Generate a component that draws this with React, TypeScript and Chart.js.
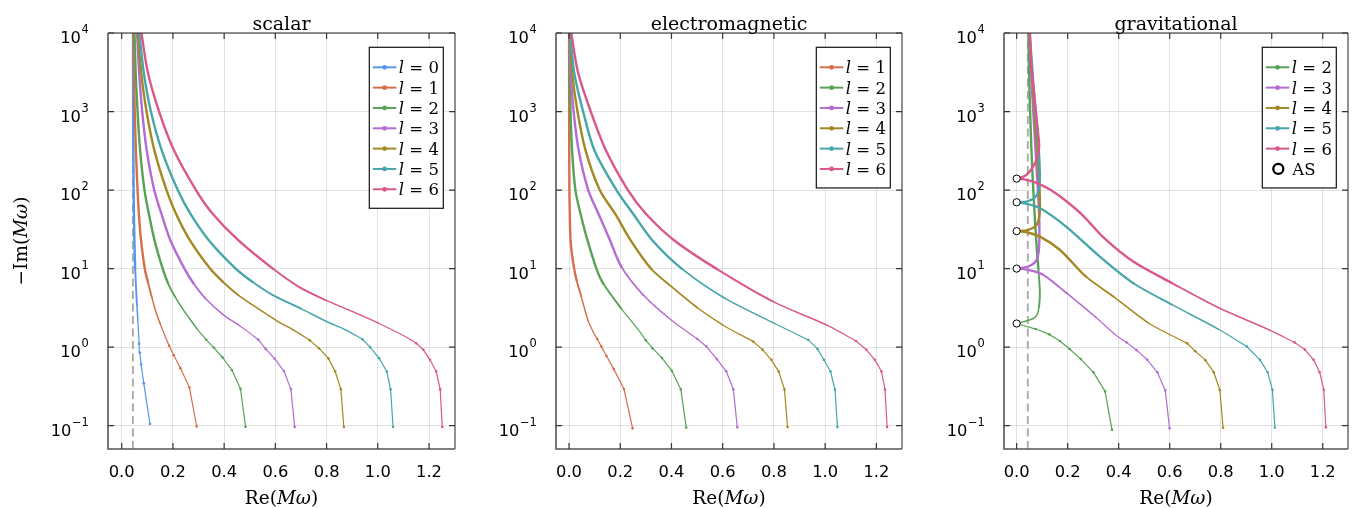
import React, { useEffect, useRef } from 'react';
import { Chart, registerables } from 'chart.js';

Chart.register(...registerables);

// Each point: [Re(Mω), -Im(Mω)]
type Pt = [number, number];

// ---------- scalar ----------
const scalarL0: Pt[] = [[0.1105, 0.1049], [0.0861, 0.3481], [0.0757, 0.6011], [0.0709, 0.8538], [0.0681, 1.106], [0.0655, 1.6], [0.063, 2.2], [0.0595, 3.5], [0.0563, 5.5], [0.0527, 10], [0.0496, 23], [0.0478, 50], [0.0467, 100], [0.0455, 316], [0.0449, 1000], [0.0445, 3162], [0.0443, 10000]];
const scalarL1: Pt[] = [[0.2929, 0.0977], [0.2645, 0.3063], [0.2295, 0.5401], [0.2033, 0.7883], [0.1851, 1.041], [0.165, 1.5], [0.150, 2.0], [0.131, 3.0], [0.117, 4.4], [0.102, 6.8], [0.090, 10], [0.0755, 23], [0.067, 50], [0.062, 100], [0.0555, 316], [0.051, 1000], [0.048, 3162], [0.046, 10000]];
const scalarL2: Pt[] = [[0.4836, 0.0968], [0.4639, 0.2956], [0.4305, 0.5086], [0.3939, 0.7381], [0.3605, 0.98], [0.33, 1.24], [0.295, 1.7], [0.273, 2.12], [0.24, 3.0], [0.208, 4.4], [0.181, 6.5], [0.16, 10], [0.128, 23], [0.106, 50], [0.089, 100], [0.072, 316], [0.062, 1000], [0.0545, 3162], [0.05, 10000]];
const scalarL3: Pt[] = [[0.6754, 0.0965], [0.6607, 0.2923], [0.6335, 0.4960], [0.598, 0.71], [0.562, 0.95], [0.534, 1.24], [0.49, 1.6], [0.456, 1.92], [0.397, 2.58], [0.326, 4.2], [0.28, 6.5], [0.245, 10], [0.19, 23], [0.155, 50], [0.127, 100], [0.098, 316], [0.08, 1000], [0.068, 3162], [0.06, 10000]];
const scalarL4: Pt[] = [[0.8674, 0.0964], [0.8558, 0.2909], [0.8337, 0.4897], [0.807, 0.72], [0.77, 0.97], [0.735, 1.22], [0.67, 1.66], [0.61, 2.12], [0.54, 2.98], [0.455, 4.6], [0.395, 6.8], [0.345, 10], [0.266, 23], [0.212, 50], [0.175, 100], [0.128, 316], [0.097, 1000], [0.076, 3162], [0.063, 10000]];
const scalarL5: Pt[] = [[1.0596, 0.0963], [1.0500, 0.2901], [1.035, 0.49], [1.005, 0.725], [0.97, 1.0], [0.94, 1.26], [0.875, 1.66], [0.8, 2.12], [0.7, 3.1], [0.59, 4.6], [0.51, 6.8], [0.445, 10], [0.34, 23], [0.268, 50], [0.219, 100], [0.157, 316], [0.114, 1000], [0.086, 3162], [0.069, 10000]];
const scalarL6: Pt[] = [[1.2518, 0.0963], [1.2437, 0.2897], [1.228, 0.49], [1.204, 0.69], [1.178, 0.925], [1.15, 1.12], [1.107, 1.37], [1.0026, 2.02], [0.9, 2.85], [0.794, 4.0], [0.69, 5.9], [0.59, 10], [0.455, 23], [0.355, 50], [0.29, 100], [0.205, 316], [0.146, 1000], [0.102, 3162], [0.077, 10000]];

// ---------- electromagnetic ----------
const emL1: Pt[] = [[0.2483, 0.0925], [0.2145, 0.2937], [0.1748, 0.5252], [0.1462, 0.7719], [0.1260, 1.0228], [0.11, 1.27], [0.095, 1.55], [0.074, 2.2], [0.048, 4.4], [0.029, 7.2], [0.016, 12], [0.006, 23], [0.003, 50], [0.0015, 100], [0.0006, 1000], [0.0003, 10000]];
const emL2: Pt[] = [[0.4576, 0.0950], [0.4365, 0.2907], [0.4012, 0.5016], [0.3626, 0.7302], [0.326, 0.97], [0.30, 1.22], [0.276, 1.58], [0.204, 3.1], [0.133, 6.5], [0.107, 10], [0.072, 23], [0.045, 50], [0.025, 100], [0.012, 316], [0.006, 1000], [0.002, 3162], [0.001, 10000]];
const emL3: Pt[] = [[0.6569, 0.0956], [0.6417, 0.2897], [0.6138, 0.4921], [0.5771, 0.7042], [0.536, 1.02], [0.50, 1.28], [0.40, 2.2], [0.29, 4.6], [0.204, 10.6], [0.16, 23], [0.115, 50], [0.075, 100], [0.038, 316], [0.018, 1000], [0.006, 3162], [0.0015, 10000]];
const emL4: Pt[] = [[0.8531, 0.0959], [0.8413, 0.2893], [0.8187, 0.4878], [0.79, 0.69], [0.755, 0.93], [0.719, 1.18], [0.60, 1.92], [0.50, 3.2], [0.40, 5.9], [0.32, 10], [0.24, 23], [0.18, 50], [0.12, 100], [0.065, 316], [0.033, 1000], [0.012, 3162], [0.003, 10000]];
const emL5: Pt[] = [[1.0479, 0.0960], [1.0383, 0.2891], [1.021, 0.49], [0.995, 0.69], [0.97, 0.95], [0.934, 1.24], [0.803, 2.0], [0.608, 4.2], [0.44, 10], [0.325, 23], [0.25, 50], [0.185, 100], [0.1, 316], [0.055, 1000], [0.02, 3162], [0.005, 10000]];
const emL6: Pt[] = [[1.2418, 0.0961], [1.2336, 0.2890], [1.22, 0.49], [1.194, 0.69], [1.161, 0.925], [1.12, 1.2], [1.005, 1.92], [0.797, 3.8], [0.575, 10], [0.41, 23], [0.30, 50], [0.23, 100], [0.145, 316], [0.085, 1000], [0.035, 3162], [0.009, 10000]];

// ---------- gravitational (branch below / above the algebraically special mode) ----------
const gravL2Lower: Pt[] = [[0.3737, 0.0890], [0.3467, 0.2739], [0.3011, 0.4783], [0.2515, 0.7051], [0.2075, 0.9468], [0.1693, 1.1956], [0.1283, 1.4531], [0.075, 1.70], [0, 2]];
const gravL2Upper: Pt[] = [[0, 2], [0.063, 2.3], [0.08, 2.6], [0.088, 3.3], [0.091, 5], [0.085, 10], [0.078, 20], [0.071, 46], [0.064, 120], [0.058, 325], [0.052, 1200], [0.048, 3800], [0.046, 10000]];
const gravL3Lower: Pt[] = [[0.5994, 0.0927], [0.5826, 0.2813], [0.5517, 0.4791], [0.5120, 0.6903], [0.4702, 0.9156], [0.431, 1.15], [0.39, 1.42], [0.31, 2.4], [0.195, 4.9], [0.10, 8.5], [0.04, 9.7], [0, 10]];
const gravL3Upper: Pt[] = [[0, 10], [0.05, 10.8], [0.078, 12.9], [0.088, 19], [0.088, 50], [0.08, 150], [0.068, 700], [0.057, 3000], [0.05, 10000]];
const gravL4Lower: Pt[] = [[0.8092, 0.0942], [0.7966, 0.2844], [0.7727, 0.4799], [0.7398, 0.6834], [0.70, 0.89], [0.668, 1.12], [0.52, 2.0], [0.38, 4.4], [0.272, 7.9], [0.169, 17.4], [0.091, 25.6], [0.03, 29.5], [0, 30]];
const gravL4Upper: Pt[] = [[0, 30], [0.043, 31], [0.078, 36], [0.09, 50], [0.09, 100], [0.085, 200], [0.075, 600], [0.062, 2500], [0.05, 10000]];
const gravL5Lower: Pt[] = [[1.0123, 0.0948], [1.0027, 0.2857], [0.984, 0.48], [0.954, 0.69], [0.902, 1.02], [0.79, 1.7], [0.607, 3.5], [0.458, 6.5], [0.325, 14.3], [0.195, 34], [0.091, 59], [0.03, 68], [0, 70]];
const gravL5Upper: Pt[] = [[0, 70], [0.043, 72], [0.078, 85], [0.09, 120], [0.09, 200], [0.085, 400], [0.072, 1200], [0.06, 4000], [0.051, 10000]];
const gravL6Lower: Pt[] = [[1.2120, 0.0953], [1.2041, 0.2866], [1.188, 0.48], [1.164, 0.69], [1.13, 0.93], [1.09, 1.15], [0.99, 1.66], [0.79, 3.2], [0.607, 6.6], [0.457, 12.3], [0.34, 25], [0.264, 46], [0.195, 72], [0.134, 100], [0.08, 123], [0.03, 137], [0, 140]];
const gravL6Upper: Pt[] = [[0, 140], [0.039, 156], [0.078, 243], [0.088, 360], [0.084, 534], [0.071, 1400], [0.058, 3700], [0.052, 10000]];

// algebraically special modes (open circles)
const asRe = [0, 0, 0, 0, 0];
const asIm = [2, 10, 30, 70, 140];

// asymptotic real part (dashed line)
const asymptoteRe = 0.0437;

// ticks
const xTickValues = [0, 0.2, 0.4, 0.6, 0.8, 1.0, 1.2];
const xTickLabels = ['0.0', '0.2', '0.4', '0.6', '0.8', '1.0', '1.2'];
const yTickValues = [0.1, 1, 10, 100, 1000, 10000];
const yTickExponents = ['\u22121', '0', '1', '2', '3', '4'];

const Y_MIN = 0.0505;
const Y_MAX = 10000;

// ---------- styles ----------
const PALETTE = ['#5596eb', '#d66e4b', '#58a256', '#b46bd2', '#a48823', '#48a6aa', '#d9578c'];
const SERIF = '"DejaVu Serif", serif';
const SANS = '"DejaVu Sans", sans-serif';
const GRID = 'rgba(0,0,0,0.11)';

type Curve = { l: number; lower: Pt[]; upper?: Pt[]; straightMax: number };
type PanelCfg = {
  title: string; curves: Curve[]; dashed: boolean; showAS: boolean; yTitle: boolean;
  left: number; width: number; padL: number; padR: number; xMin: number; xMax: number;
};

const PANELS: PanelCfg[] = [
  {
    title: 'scalar', dashed: true, showAS: false, yTitle: true,
    left: 0, width: 460, padL: 108, padR: 5, xMin: -0.0535, xMax: 1.3015,
    curves: [
      { l: 0, lower: scalarL0, straightMax: 1.3 },
      { l: 1, lower: scalarL1, straightMax: 1.3 },
      { l: 2, lower: scalarL2, straightMax: 1.3 },
      { l: 3, lower: scalarL3, straightMax: 1.3 },
      { l: 4, lower: scalarL4, straightMax: 1.3 },
      { l: 5, lower: scalarL5, straightMax: 1.3 },
      { l: 6, lower: scalarL6, straightMax: 1.3 },
    ],
  },
  {
    title: 'electromagnetic', dashed: false, showAS: false, yTitle: false,
    left: 460, width: 448, padL: 96, padR: 6, xMin: -0.0508, xMax: 1.300,
    curves: [
      { l: 1, lower: emL1, straightMax: 1.3 },
      { l: 2, lower: emL2, straightMax: 1.3 },
      { l: 3, lower: emL3, straightMax: 1.3 },
      { l: 4, lower: emL4, straightMax: 1.3 },
      { l: 5, lower: emL5, straightMax: 1.3 },
      { l: 6, lower: emL6, straightMax: 1.3 },
    ],
  },
  {
    title: 'gravitational', dashed: true, showAS: true, yTitle: false,
    left: 908, width: 445, padL: 96, padR: 4, xMin: -0.0496, xMax: 1.299,
    curves: [
      { l: 2, lower: gravL2Lower, upper: gravL2Upper, straightMax: 2.01 },
      { l: 3, lower: gravL3Lower, upper: gravL3Upper, straightMax: 1.3 },
      { l: 4, lower: gravL4Lower, upper: gravL4Upper, straightMax: 1.3 },
      { l: 5, lower: gravL5Lower, upper: gravL5Upper, straightMax: 1.3 },
      { l: 6, lower: gravL6Lower, upper: gravL6Upper, straightMax: 1.3 },
    ],
  },
];

const segWidth = (ctx: any) => {
  const y = Math.min(ctx.p0.parsed.y, ctx.p1.parsed.y);
  return y > 6 ? 2.4 : y > 3 ? 1.9 : y > 1.6 ? 1.5 : 1.2;
};

function curveDatasets(c: Curve): any[] {
  const color = PALETTE[c.l];
  const pts = c.lower.map(([x, y]) => ({ x, y }));
  let k = pts.findIndex((p) => p.y > c.straightMax);
  if (k === -1) k = pts.length;
  const out: any[] = [];
  const base = {
    borderColor: color, backgroundColor: color, borderCapStyle: 'round', borderJoinStyle: 'round',
    order: -c.l, fill: false,
  };
  out.push({
    ...base, data: pts.slice(0, k), tension: 0, borderWidth: 1.2,
    pointRadius: 1.3, pointBorderWidth: 0, pointBackgroundColor: color,
  });
  if (k < pts.length) {
    out.push({
      ...base, data: pts.slice(Math.max(k - 1, 0)), tension: 0.3, borderWidth: 1.2,
      pointRadius: 0, segment: { borderWidth: segWidth },
    });
  }
  if (c.upper) {
    out.push({
      ...base, data: c.upper.map(([x, y]) => ({ x, y })), tension: 0.3, borderWidth: 2,
      pointRadius: 0, segment: { borderWidth: segWidth },
    });
  }
  return out;
}

type Piece = { t: string; italic?: boolean };
function drawRich(ctx: CanvasRenderingContext2D, pieces: Piece[], x: number, y: number, size: number, align: 'center' | 'left') {
  const fonts = pieces.map((p) => `${p.italic ? 'italic ' : ''}${size}px ${SERIF}`);
  const widths = pieces.map((p, i) => { ctx.font = fonts[i]; return ctx.measureText(p.t).width; });
  const total = widths.reduce((a, b) => a + b, 0);
  let cx = align === 'center' ? x - total / 2 : x;
  ctx.textAlign = 'left';
  ctx.textBaseline = 'alphabetic';
  pieces.forEach((p, i) => { ctx.font = fonts[i]; ctx.fillText(p.t, cx, y); cx += widths[i]; });
}

const decorPlugin = {
  id: 'decor',
  afterDraw(chart: any, _args: any, opts: any) {
    const cfg: PanelCfg = opts.cfg;
    const { ctx, chartArea: a, scales } = chart;
    const xs = scales.x, ys = scales.y;
    ctx.save();

    // frame
    ctx.lineCap = 'butt';
    ctx.strokeStyle = '#222';
    ctx.lineWidth = 1;
    ctx.beginPath();
    ctx.moveTo(a.left, a.top); ctx.lineTo(a.right, a.top); ctx.lineTo(a.right, a.bottom);
    ctx.stroke();
    ctx.strokeStyle = '#555';
    ctx.lineWidth = 1.6;
    ctx.beginPath();
    ctx.moveTo(a.left, a.top); ctx.lineTo(a.left, a.bottom); ctx.lineTo(a.right, a.bottom);
    ctx.stroke();

    // inward tick marks on all sides
    ctx.strokeStyle = '#333';
    ctx.lineWidth = 1.2;
    ctx.beginPath();
    xTickValues.forEach((v) => {
      const px = xs.getPixelForValue(v);
      ctx.moveTo(px, a.bottom); ctx.lineTo(px, a.bottom - 6);
      ctx.moveTo(px, a.top); ctx.lineTo(px, a.top + 6);
    });
    yTickValues.forEach((v) => {
      const py = ys.getPixelForValue(v);
      ctx.moveTo(a.left, py); ctx.lineTo(a.left + 6, py);
      ctx.moveTo(a.right, py); ctx.lineTo(a.right - 6, py);
    });
    ctx.stroke();

    // tick labels
    ctx.fillStyle = '#000';
    ctx.font = `16.3px ${SANS}`;
    ctx.textAlign = 'center';
    ctx.textBaseline = 'alphabetic';
    xTickValues.forEach((v, i) => {
      ctx.fillText(xTickLabels[i], xs.getPixelForValue(v), a.bottom + 27.7);
    });
    yTickValues.forEach((v, i) => {
      const py = ys.getPixelForValue(v);
      const right = a.left - 19.3;
      ctx.font = `11.4px ${SANS}`;
      const we = ctx.measureText(yTickExponents[i]).width;
      ctx.font = `16.3px ${SANS}`;
      const wb = ctx.measureText('10').width;
      ctx.textAlign = 'left';
      ctx.fillText('10', right - we - wb - 0.5, py + 10.3);
      ctx.font = `11.4px ${SANS}`;
      ctx.fillText(yTickExponents[i], right - we, py + 0.2);
    });

    // title
    ctx.font = `19px ${SERIF}`;
    ctx.textAlign = 'center';
    ctx.fillText(cfg.title, (a.left + a.right) / 2, 30);

    // axis titles
    drawRich(ctx, [{ t: 'Re(' }, { t: 'M', italic: true }, { t: '\u03c9', italic: true }, { t: ')' }], (a.left + a.right) / 2, 503.5, 18.5, 'center');
    if (cfg.yTitle) {
      ctx.save();
      ctx.translate(27, (a.top + a.bottom) / 2);
      ctx.rotate(-Math.PI / 2);
      drawRich(ctx, [{ t: '\u2212Im(' }, { t: 'M', italic: true }, { t: '\u03c9', italic: true }, { t: ')' }], 0, 0, 18.5, 'center');
      ctx.restore();
    }

    // legend
    const rowH = 20.33;
    const n = cfg.curves.length + (cfg.showAS ? 1 : 0);
    const bx = a.right - 85.7, by = a.top + 14.3, bw = 74;
    const bh = 20 + (n - 1) * rowH + 19;
    ctx.fillStyle = '#fff';
    ctx.fillRect(bx, by, bw, bh);
    ctx.strokeStyle = '#111';
    ctx.lineWidth = 1.2;
    ctx.strokeRect(bx, by, bw, bh);
    cfg.curves.forEach((c, i) => {
      const cy = by + 20 + i * rowH;
      const col = PALETTE[c.l];
      ctx.strokeStyle = col;
      ctx.lineWidth = 2;
      ctx.beginPath(); ctx.moveTo(bx + 3.5, cy); ctx.lineTo(bx + 27, cy); ctx.stroke();
      ctx.fillStyle = col;
      ctx.beginPath(); ctx.arc(bx + 15.3, cy, 2.4, 0, Math.PI * 2); ctx.fill();
      ctx.fillStyle = '#000';
      drawRich(ctx, [{ t: 'l', italic: true }, { t: ' = ' + c.l }], bx + 29.5, cy + 6, 16.5, 'left');
    });
    if (cfg.showAS) {
      const cy = by + 20 + cfg.curves.length * rowH;
      ctx.fillStyle = '#fff';
      ctx.strokeStyle = '#000';
      ctx.lineWidth = 2.3;
      ctx.beginPath(); ctx.arc(bx + 16, cy, 5, 0, Math.PI * 2); ctx.fill(); ctx.stroke();
      ctx.fillStyle = '#000';
      drawRich(ctx, [{ t: 'AS' }], bx + 30, cy + 6, 16.5, 'left');
    }
    ctx.restore();
  },
};

function Panel({ cfg }: { cfg: PanelCfg }) {
  const ref = useRef<HTMLCanvasElement>(null);
  useEffect(() => {
    const datasets: any[] = [];
    cfg.curves.forEach((c) => datasets.push(...curveDatasets(c)));
    if (cfg.dashed) {
      datasets.push({
        data: [{ x: asymptoteRe, y: Y_MIN }, { x: asymptoteRe, y: Y_MAX }],
        borderColor: '#a8a8a8', borderWidth: 1.8, borderDash: [8, 4.5], pointRadius: 0, order: 10, tension: 0,
      });
    }
    if (cfg.showAS) {
      datasets.push({
        data: asRe.map((x, i) => ({ x, y: asIm[i] })), showLine: false,
        pointRadius: 3.6, pointBackgroundColor: '#fff', pointBorderColor: '#000', pointBorderWidth: 1,
        order: -20,
      });
    }
    const chart = new Chart(ref.current as HTMLCanvasElement, {
      type: 'line',
      data: { datasets },
      plugins: [decorPlugin as any],
      options: {
        animation: false,
        responsive: false,
        events: [],
        layout: { padding: { left: cfg.padL, right: cfg.padR, top: 33, bottom: 59 } },
        plugins: { legend: { display: false }, tooltip: { enabled: false }, decor: { cfg } } as any,
        scales: {
          x: {
            type: 'linear', min: cfg.xMin, max: cfg.xMax,
            afterBuildTicks: (s: any) => { s.ticks = xTickValues.map((v) => ({ value: v })); },
            afterFit: (s: any) => { s.height = 0; },
            ticks: { display: false },
            grid: { color: GRID, lineWidth: 1, drawTicks: false },
            border: { display: false },
          },
          y: {
            type: 'logarithmic', min: Y_MIN, max: Y_MAX,
            afterBuildTicks: (s: any) => { s.ticks = yTickValues.map((v) => ({ value: v })); },
            afterFit: (s: any) => { s.width = 0; },
            ticks: { display: false },
            grid: { color: GRID, lineWidth: 1, drawTicks: false },
            border: { display: false },
          },
        } as any,
      },
    });
    return () => chart.destroy();
  }, [cfg]);
  return (
    <canvas
      ref={ref}
      width={cfg.width}
      height={508}
      style={{ position: 'absolute', left: cfg.left, top: 0, width: cfg.width, height: 508 }}
    />
  );
}

export default function App() {
  return (
    <div style={{ position: 'fixed', left: 0, top: 0, width: 1353, height: 508, background: '#fff', overflow: 'hidden' }}>
      {PANELS.map((p) => (
        <Panel key={p.title} cfg={p} />
      ))}
    </div>
  );
}
